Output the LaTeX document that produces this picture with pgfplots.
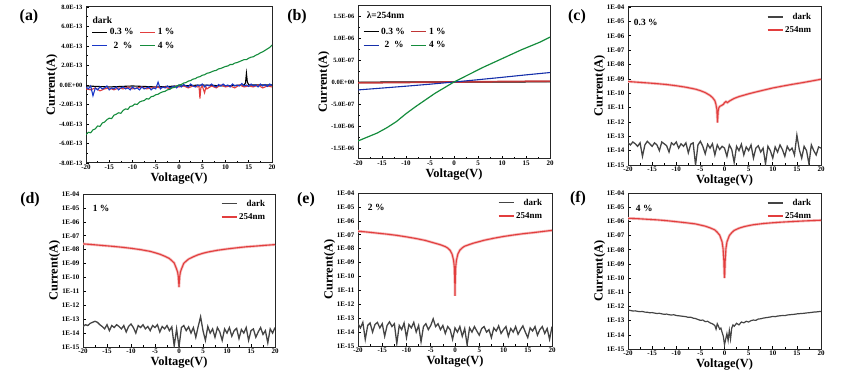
\documentclass[border=0pt]{standalone}
\usepackage{fontspec}
\setmainfont{Liberation Serif}
\usepackage{pgfplots}
\usepackage{pgfplotstable}
\pgfplotsset{compat=1.18}

\definecolor{cdark}{RGB}{68,68,68}
\definecolor{cred}{RGB}{226,62,62}
\definecolor{cblue}{RGB}{25,55,200}
\definecolor{cgreen}{RGB}{20,140,60}

\pgfplotstableread{
x y
-20 6.5e-10
-18 5.8e-10
-16 5.2e-10
-14 4.6e-10
-12 4.0e-10
-10 3.3e-10
-8 2.6e-10
-6 1.9e-10
-5 1.5e-10
-4 1.1e-10
-3 7e-11
-2.5 5e-11
-2 3e-11
-1.8 1.8e-11
-1.6 8e-12
-1.5 2e-12
-1.45 9e-13
-1.4 2e-12
-1.3 6e-12
-1.2 9e-12
-1 1.2e-11
-0.6 1.4e-11
-0.2 1.7e-11
0 2.2e-11
0.3 2.6e-11
0.6 2.2e-11
1 2.8e-11
1.5 3.5e-11
2 4.3e-11
3 5.8e-11
4 7.2e-11
5 9e-11
6 1.1e-10
8 1.6e-10
10 2.3e-10
12 3.1e-10
14 4.1e-10
16 5.3e-10
18 7e-10
20 9.3e-10
}\redC

\pgfplotstableread{
x y
-20 2.6e-8
-18 2.3e-8
-16 2.0e-8
-14 1.75e-8
-12 1.5e-8
-10 1.25e-8
-8 1.0e-8
-6 7.5e-9
-5 6e-9
-4 4.7e-9
-3 3.4e-9
-2 2.3e-9
-1.5 1.6e-9
-1 1.1e-9
-0.5 4e-10
-0.3 2.5e-10
-0.15 1.2e-10
-0.05 4e-11
0 2e-11
0.05 4e-11
0.15 1.2e-10
0.3 2.5e-10
0.5 4e-10
1 1.05e-9
1.5 1.5e-9
2 2.1e-9
3 3.1e-9
4 4.3e-9
5 5.5e-9
6 6.7e-9
8 9e-9
10 1.12e-8
12 1.35e-8
14 1.6e-8
16 1.8e-8
18 2.05e-8
20 2.3e-8
}\redD

\pgfplotstableread{
x y
-20 1.8e-7
-18 1.55e-7
-16 1.3e-7
-14 1.1e-7
-12 9e-8
-10 7e-8
-8 5.3e-8
-6 3.8e-8
-5 3e-8
-4 2.4e-8
-3 1.9e-8
-2 1.4e-8
-1.5 1.1e-8
-1 7.5e-9
-0.6 4e-9
-0.3 1.5e-9
-0.15 5e-10
-0.05 5e-11
0 4e-12
0.05 5e-11
0.15 5e-10
0.3 1.5e-9
0.6 4.2e-9
1 7.8e-9
1.5 1.15e-8
2 1.5e-8
3 2e-8
4 2.6e-8
5 3.2e-8
6 4e-8
8 5.6e-8
10 7.5e-8
12 9.5e-8
14 1.18e-7
16 1.4e-7
18 1.7e-7
20 2.05e-7
}\redE

\pgfplotstableread{
x y
-20 1.65e-6
-18 1.55e-6
-16 1.4e-6
-14 1.28e-6
-12 1.12e-6
-10 9.5e-7
-8 8e-7
-6 6.6e-7
-5 5.5e-7
-4 4.6e-7
-3 3.5e-7
-2 2.5e-7
-1.5 1.7e-7
-1 1.07e-7
-0.5 3.6e-8
-0.3 1.2e-8
-0.15 2e-9
-0.05 2e-10
0 1e-10
0.05 2e-10
0.15 2e-9
0.3 1.2e-8
0.5 3.5e-8
1 1e-7
1.5 1.6e-7
2 2.3e-7
3 3.3e-7
4 4.2e-7
5 5e-7
6 5.8e-7
8 7e-7
10 8e-7
12 8.9e-7
14 9.7e-7
16 1.05e-6
18 1.13e-6
20 1.2e-6
}\redF

\pgfplotsset{
 panel/.style={
  scale only axis,
  anchor=south west,
  xmin=-20, xmax=20,
  xtick={-20,-15,-10,-5,0,5,10,15,20},
  xticklabels={-20,-15,-10,-5,0,5,10,15,20},
  minor x tick num=1,
  tick align=inside,
  xtick pos=bottom, ytick pos=left,
  major tick length=3bp, minor tick length=1.8bp,
  every tick/.style={line width=0.6bp, black},
  axis line style={line width=1bp, black!85},
  xticklabel style={font=\bfseries\fontsize{7}{8}\selectfont, inner sep=1bp, yshift=-1bp},
  yticklabel style={font=\bfseries\fontsize{6.5}{7}\selectfont, inner sep=1bp, xshift=-2.5bp},
  label style={font=\bfseries\fontsize{12.5}{14}\selectfont},
  xlabel={Voltage(V)},
  ylabel={Current(A)},
  xlabel style={inner sep=1.5bp},
  ylabel style={yshift=-3bp},
  scaled y ticks=false,
  scaled x ticks=false,
  legend style={draw=none, fill=none, inner sep=0pt, row sep=1.5bp,
    font=\bfseries\fontsize{9.5}{10}\selectfont},
  legend image code/.code={\draw[##1, line width=1.2bp] (0bp,0bp) -- (15bp,0bp);},
 },
 logpanel/.style={
  panel,
  ymin=1e-15, ymax=1e-4,
  ytick={1e-15,1e-14,1e-13,1e-12,1e-11,1e-10,1e-9,1e-8,1e-7,1e-6,1e-5,1e-4},
  yticklabels={1E-15,1E-14,1E-13,1E-12,1E-11,1E-10,1E-09,1E-08,1E-07,1E-06,1E-05,1E-04},
  yminorticks=false,
  yticklabel style={font=\bfseries\fontsize{7}{7.5}\selectfont},
  legend cell align=right,
  legend style={at={(rel axis cs:0.96,0.975)}, anchor=north east, font=\bfseries\fontsize{9}{10}\selectfont},
 },
}

\begin{document}
\begin{tikzpicture}
\path[use as bounding box] (0,0) rectangle (844bp,386bp);

% ---------------- (a)
\begin{axis}[panel, at={(86bp,223bp)}, width=186bp, height=156bp,
  ymin=-8e-13, ymax=8e-13,
  ytick={-8e-13,-6e-13,-4e-13,-2e-13,0,2e-13,4e-13,6e-13,8e-13},
  yticklabels={-8.0E-13,-6.0E-13,-4.0E-13,-2.0E-13,0.0E+00,2.0E-13,4.0E-13,6.0E-13,8.0E-13},
  minor y tick num=1,
  legend columns=2,
  legend style={at={(rel axis cs:0.03,0.875)}, anchor=north west,
    /tikz/every even column/.append style={column sep=4bp}},
]
\addplot[black, line width=1.1bp] coordinates {(-20,-0.1e-13)(-15,-0.2e-13)(-10,-0.1e-13)(-5,-0.2e-13)(0,-0.1e-13)(5,0)(10,-0.1e-13)(14,0)(14.3,0.2e-13)(14.5,1.2e-13)(14.7,0.3e-13)(15,0)(20,0)};
\addlegendentry{0.3 \%}
\addplot[cred, line width=1.1bp] coordinates {(-20,-0.4e-13)(-19,-0.5e-13)(-18,-0.3e-13)(-17,-0.6e-13)(-16,-0.4e-13)(-15,-0.3e-13)(-14,-0.5e-13)(-13,-0.3e-13)(-12,-0.4e-13)(-11,-0.2e-13)(-10,-0.4e-13)(-9,-0.3e-13)(-8,-0.2e-13)(-7,-0.4e-13)(-6,-0.3e-13)(-5,-0.2e-13)(-4,-0.3e-13)(-3,-0.2e-13)(-2,-0.4e-13)(-1,-0.1e-13)(0,-0.2e-13)(1,-0.1e-13)(2,-0.3e-13)(3,-0.1e-13)(4,-0.2e-13)(4.3,-0.1e-13)(4.5,-1.4e-13)(4.7,-0.3e-13)(5,-0.1e-13)(5.5,-0.8e-13)(5.8,-0.2e-13)(6,-0.4e-13)(7,-0.1e-13)(8,-0.3e-13)(9,0)(10,-0.2e-13)(11,-0.1e-13)(12,-0.3e-13)(13,0)(14,-0.2e-13)(15,-0.1e-13)(16,-0.2e-13)(17,0)(18,-0.3e-13)(19,-0.1e-13)(20,-0.2e-13)};
\addlegendentry{1 \%}
\addplot[cblue, line width=1.1bp] coordinates {(-20,-0.2e-13)(-19.5,-0.4e-13)(-19,-0.1e-13)(-18.5,-1.1e-13)(-18,-0.3e-13)(-17.5,-0.5e-13)(-17,-0.2e-13)(-16.5,-0.4e-13)(-16,-0.3e-13)(-15.5,-0.1e-13)(-15,-0.5e-13)(-14.5,-0.3e-13)(-14,-0.4e-13)(-13.5,-0.2e-13)(-13,-0.5e-13)(-12.5,-0.3e-13)(-12,-0.2e-13)(-11.5,-0.4e-13)(-11,-0.3e-13)(-10.5,-0.5e-13)(-10,-0.2e-13)(-9.5,-0.4e-13)(-9,-0.3e-13)(-8.5,-0.5e-13)(-8,-0.2e-13)(-7.5,-0.4e-13)(-7,-0.3e-13)(-6.5,-0.2e-13)(-6,-0.5e-13)(-5.5,-0.3e-13)(-5,-0.4e-13)(-4.5,0.3e-13)(-4,-0.4e-13)(-3.5,-0.2e-13)(-3,-0.3e-13)(-2.5,-0.1e-13)(-2,-0.3e-13)(-1.5,-0.2e-13)(-1,-0.1e-13)(-0.5,-0.3e-13)(0,0)(0.5,-0.2e-13)(1,0.05e-13)(1.5,-0.1e-13)(2,-0.2e-13)(2.5,0.1e-13)(3,-0.1e-13)(3.5,-0.2e-13)(4,0)(4.5,-0.1e-13)(5,0.1e-13)(5.5,-0.2e-13)(6,0)(6.5,-0.1e-13)(7,0.1e-13)(7.5,-0.1e-13)(8,-0.2e-13)(8.5,0.05e-13)(9,-0.1e-13)(9.5,0.1e-13)(10,-0.1e-13)(10.5,0)(11,-0.2e-13)(11.5,0.1e-13)(12,-0.1e-13)(12.5,0)(13,-0.1e-13)(13.5,0.15e-13)(14,-0.1e-13)(14.5,0)(15,-0.15e-13)(15.5,0.1e-13)(16,-0.1e-13)(16.5,0)(17,-0.2e-13)(17.5,0.1e-13)(18,-0.1e-13)(18.5,0.05e-13)(19,-0.15e-13)(19.5,0.1e-13)(20,-0.05e-13)};
\addlegendentry{\ 2 \ \%}
\addplot[cgreen, line width=1.1bp] coordinates {(-20,-5.1e-13)(-19.5,-4.85e-13)(-19,-4.9e-13)(-18.5,-4.6e-13)(-18,-4.5e-13)(-17.5,-4.2e-13)(-17,-4.25e-13)(-16.5,-3.9e-13)(-16,-3.8e-13)(-15.5,-3.55e-13)(-15,-3.4e-13)(-14.5,-3.45e-13)(-14,-3.1e-13)(-13.5,-3.0e-13)(-13,-2.85e-13)(-12.5,-2.9e-13)(-12,-2.6e-13)(-11.5,-2.45e-13)(-11,-2.5e-13)(-10.5,-2.2e-13)(-10,-2.15e-13)(-9.5,-1.95e-13)(-9,-2.0e-13)(-8.5,-1.75e-13)(-8,-1.65e-13)(-7.5,-1.6e-13)(-7,-1.4e-13)(-6.5,-1.45e-13)(-6,-1.2e-13)(-5.5,-1.15e-13)(-5,-1.0e-13)(-4.5,-0.95e-13)(-4,-0.8e-13)(-3.5,-0.7e-13)(-3,-0.65e-13)(-2.5,-0.5e-13)(-2,-0.45e-13)(-1.5,-0.3e-13)(-1,-0.25e-13)(-0.5,-0.1e-13)(0,0)(0.5,0.05e-13)(1,0.2e-13)(1.5,0.25e-13)(2,0.4e-13)(2.5,0.45e-13)(3,0.6e-13)(3.5,0.65e-13)(4,0.8e-13)(4.5,0.85e-13)(5,1.0e-13)(5.5,1.05e-13)(6,1.2e-13)(6.5,1.25e-13)(7,1.35e-13)(7.5,1.45e-13)(8,1.5e-13)(8.5,1.65e-13)(9,1.7e-13)(9.5,1.8e-13)(10,1.9e-13)(10.5,1.95e-13)(11,2.1e-13)(11.5,2.1e-13)(12,2.25e-13)(12.5,2.3e-13)(13,2.4e-13)(13.5,2.5e-13)(14,2.6e-13)(14.5,2.6e-13)(15,2.75e-13)(15.5,2.85e-13)(16,2.9e-13)(16.5,3.05e-13)(17,3.15e-13)(17.5,3.3e-13)(18,3.4e-13)(18.5,3.55e-13)(19,3.7e-13)(19.5,3.85e-13)(20,4.1e-13)};
\addlegendentry{4 \%}
\node[anchor=west, font=\bfseries\fontsize{9.5}{10}\selectfont, inner sep=0pt] at (rel axis cs:0.035,0.915) {dark};
\end{axis}

% ---------------- (b)
\begin{axis}[panel, at={(358bp,227bp)}, width=192bp, height=154bp,
  ymin=-1.75e-6, ymax=1.75e-6,
  ytick={-1.5e-6,-1e-6,-5e-7,0,5e-7,1e-6,1.5e-6},
  yticklabels={-1.5E-06,-1.0E-06,-5.0E-07,0.0E+00,5.0E-07,1.0E-06,1.5E-06},
  minor y tick num=1,
  legend columns=2,
  legend style={at={(rel axis cs:0.025,0.865)}, anchor=north west,
    /tikz/every even column/.append style={column sep=4bp}},
]
\addplot[black, line width=1.2bp] coordinates {(-20,-3e-9)(0,0)(20,3e-9)};
\addlegendentry{0.3 \%}
\addplot[cred!85!black, line width=1.7bp] coordinates {(-20,-2e-8)(-10,-1e-8)(0,0)(10,1e-8)(20,2e-8)};
\addlegendentry{1 \%}
\addplot[cblue!85!black, line width=1.1bp] coordinates {(-20,-1.8e-7)(-15,-1.38e-7)(-10,-0.95e-7)(-5,-0.5e-7)(0,0)(5,0.52e-7)(10,1.06e-7)(15,1.62e-7)(20,2.15e-7)};
\addlegendentry{\ 2 \ \%}
\addplot[cgreen, line width=1.2bp] coordinates {(-20,-1.34e-6)(-18,-1.25e-6)(-16,-1.16e-6)(-14,-1.04e-6)(-12,-0.9e-6)(-10,-0.72e-6)(-8,-0.56e-6)(-6,-0.41e-6)(-4,-0.26e-6)(-2,-0.13e-6)(0,0)(2,0.11e-6)(4,0.22e-6)(6,0.33e-6)(8,0.43e-6)(10,0.53e-6)(12,0.63e-6)(14,0.73e-6)(16,0.82e-6)(18,0.91e-6)(20,1.02e-6)};
\addlegendentry{4 \%}
\node[anchor=west, font=\bfseries\fontsize{9.5}{10}\selectfont, inner sep=0pt] at (rel axis cs:0.045,0.935) {λ=254nm};
\end{axis}

% ---------------- (c)
\begin{axis}[ymode=log, logpanel, at={(628bp,221bp)}, width=193bp, height=158bp]
\addplot[cdark, line width=1.3bp] coordinates {(-20,3.5e-14)(-19.5,2.5e-14)(-19,4e-14)(-18.5,3e-14)(-18,2e-14)(-17.5,3.5e-14)(-17,0.4e-14)(-16.5,2.5e-14)(-16,4.5e-14)(-15.5,3e-14)(-15,2e-14)(-14.5,3.5e-14)(-14,2.5e-14)(-13.5,1e-14)(-13,4e-14)(-12.5,3e-14)(-12,2.2e-14)(-11.5,0.8e-14)(-11,3.5e-14)(-10.5,2.5e-14)(-10,4e-14)(-9.5,1.5e-14)(-9,3e-14)(-8.5,2e-14)(-8,3.5e-14)(-7.5,0.7e-14)(-7,2.8e-14)(-6.5,3.5e-14)(-6,0.1e-14)(-5.5,2.5e-14)(-5,4.5e-14)(-4.5,2e-14)(-4,0.6e-14)(-3.5,2.8e-14)(-3,1.5e-14)(-2.5,3e-14)(-2,0.5e-14)(-1.5,2.5e-14)(-1,1.2e-14)(-0.5,2e-14)(0,1.5e-14)(0.5,0.4e-14)(1,2.5e-14)(1.5,1.2e-14)(2,0.15e-14)(2.5,2e-14)(3,1e-14)(3.5,2.8e-14)(4,0.5e-14)(4.5,1.8e-14)(5,1e-14)(5.5,2.5e-14)(6,0.3e-14)(6.5,1.5e-14)(7,2.2e-14)(7.5,0.8e-14)(8,1.5e-14)(8.5,0.12e-14)(9,2e-14)(9.5,1e-14)(10,0.3e-14)(10.5,1.8e-14)(11,0.8e-14)(11.5,2.5e-14)(12,1.2e-14)(12.5,0.4e-14)(13,2e-14)(13.5,1e-14)(14,1.5e-14)(14.5,0.5e-14)(15,12e-14)(15.5,1.2e-14)(16,0.3e-14)(16.5,2e-14)(17,1e-14)(17.5,0.12e-14)(18,2.5e-14)(18.5,1e-14)(19,0.5e-14)(19.5,1.8e-14)(20,1.5e-14)};
\addlegendentry{dark}
\addplot[cred!35, line width=2.6bp, forget plot] table {\redC};
\addplot[cred, line width=1.1bp] table {\redC};
\addlegendentry{254nm}
\node[anchor=west, font=\bfseries\fontsize{9.5}{10}\selectfont, inner sep=0pt] at (rel axis cs:0.03,0.905) {0.3 \%};
\end{axis}

% ---------------- (d)
\begin{axis}[ymode=log, logpanel, at={(83bp,39bp)}, width=192bp, height=153bp]
\addplot[cdark, line width=1.3bp] coordinates {(-20,3e-14)(-19.5,4e-14)(-19,3.5e-14)(-18.5,5e-14)(-18,6e-14)(-17.5,7e-14)(-17,6e-14)(-16.5,4e-14)(-16,3e-14)(-15.5,2e-14)(-15,4e-14)(-14.5,1.5e-14)(-14,3.5e-14)(-13.5,2.5e-14)(-13,4e-14)(-12.5,3e-14)(-12,2e-14)(-11.5,3.5e-14)(-11,1.2e-14)(-10.5,3e-14)(-10,4.5e-14)(-9.5,2.5e-14)(-9,1e-14)(-8.5,3.5e-14)(-8,2.5e-14)(-7.5,4e-14)(-7,2e-14)(-6.5,3e-14)(-6,1.5e-14)(-5.5,3.5e-14)(-5,2.5e-14)(-4.5,4e-14)(-4,1.2e-14)(-3.5,3e-14)(-3,2e-14)(-2.5,3.5e-14)(-2,1.5e-14)(-1.5,2.8e-14)(-1,0.12e-14)(-0.5,2e-14)(0,0.1e-14)(0.5,2.5e-14)(1,3.5e-14)(1.5,1.5e-14)(2,2.8e-14)(2.5,1e-14)(3,2.5e-14)(3.5,0.5e-14)(4,3e-14)(4.5,15e-14)(5,1.5e-14)(5.5,0.3e-14)(6,3e-14)(6.5,1e-14)(7,2e-14)(7.5,0.5e-14)(8,2.5e-14)(8.5,1.2e-14)(9,0.3e-14)(9.5,2e-14)(10,1e-14)(10.5,2.5e-14)(11,0.6e-14)(11.5,1.5e-14)(12,2.2e-14)(12.5,0.4e-14)(13,1.8e-14)(13.5,1e-14)(14,2.5e-14)(14.5,0.3e-14)(15,1.5e-14)(15.5,2e-14)(16,0.5e-14)(16.5,1.2e-14)(17,2.5e-14)(17.5,0.8e-14)(18,1.5e-14)(18.5,0.2e-14)(19,2e-14)(19.5,1e-14)(20,2.5e-14)};
\addlegendentry{dark}
\addplot[cred!35, line width=2.6bp, forget plot] table {\redD};
\addplot[cred, line width=1.1bp] table {\redD};
\addlegendentry{254nm}
\node[anchor=west, font=\bfseries\fontsize{9.5}{10}\selectfont, inner sep=0pt] at (rel axis cs:0.05,0.905) {1 \%};
\end{axis}

% ---------------- (e)
\begin{axis}[ymode=log, logpanel, at={(358bp,40bp)}, width=194bp, height=153bp]
\addplot[cdark, line width=1.3bp] coordinates {(-20,4e-14)(-19.5,2e-14)(-19,5e-14)(-18.5,0.3e-14)(-18,3e-14)(-17.5,4.5e-14)(-17,1e-14)(-16.5,3.5e-14)(-16,5e-14)(-15.5,2e-14)(-15,4e-14)(-14.5,0.5e-14)(-14,3e-14)(-13.5,5.5e-14)(-13,2.5e-14)(-12.5,4e-14)(-12,0.15e-14)(-11.5,3e-14)(-11,1.5e-14)(-10.5,4.5e-14)(-10,0.4e-14)(-9.5,3.5e-14)(-9,2e-14)(-8.5,5e-14)(-8,1e-14)(-7.5,3e-14)(-7,0.2e-14)(-6.5,2.5e-14)(-6,4e-14)(-5.5,1.5e-14)(-5,3e-14)(-4.5,9e-14)(-4,2.5e-14)(-3.5,4e-14)(-3,1.5e-14)(-2.5,3e-14)(-2,0.8e-14)(-1.5,2.5e-14)(-1,1.5e-14)(-0.5,0.3e-14)(0,2e-14)(0.5,1e-14)(1,2.5e-14)(1.5,0.5e-14)(2,1.8e-14)(2.5,0.12e-14)(3,2e-14)(3.5,1e-14)(4,2.5e-14)(4.5,1.2e-14)(5,0.6e-14)(5.5,1.8e-14)(6,2.5e-14)(6.5,1e-14)(7,1.5e-14)(7.5,0.4e-14)(8,2e-14)(8.5,1.2e-14)(9,2.8e-14)(9.5,0.8e-14)(10,1.5e-14)(10.5,2.5e-14)(11,0.5e-14)(11.5,1.8e-14)(12,1e-14)(12.5,2.5e-14)(13,0.7e-14)(13.5,1.5e-14)(14,2.8e-14)(14.5,1e-14)(15,0.4e-14)(15.5,2e-14)(16,1.2e-14)(16.5,2.5e-14)(17,0.6e-14)(17.5,1.5e-14)(18,2.5e-14)(18.5,0.8e-14)(19,1.8e-14)(19.5,0.3e-14)(20,2.5e-14)};
\addlegendentry{dark}
\addplot[cred!35, line width=2.6bp, forget plot] table {\redE};
\addplot[cred, line width=1.1bp] table {\redE};
\addlegendentry{254nm}
\node[anchor=west, font=\bfseries\fontsize{9.5}{10}\selectfont, inner sep=0pt] at (rel axis cs:0.05,0.905) {2 \%};
\end{axis}

% ---------------- (f)
\begin{axis}[ymode=log, logpanel, at={(628bp,37bp)}, width=193bp, height=156bp]
\addplot[cdark, line width=1.2bp] coordinates {(-20,5.5e-13)(-19.5,5.2e-13)(-19,4.8e-13)(-18.5,4.9e-13)(-18,4.5e-13)(-17.5,4.3e-13)(-17,4.4e-13)(-16.5,4.0e-13)(-16,3.9e-13)(-15.5,3.6e-13)(-15,3.7e-13)(-14.5,3.4e-13)(-14,3.2e-13)(-13.5,3.3e-13)(-13,3.0e-13)(-12.5,2.8e-13)(-12,2.9e-13)(-11.5,2.6e-13)(-11,2.5e-13)(-10.5,2.6e-13)(-10,2.3e-13)(-9.5,2.2e-13)(-9,2.1e-13)(-8.5,2.0e-13)(-8,1.9e-13)(-7.5,1.7e-13)(-7,1.75e-13)(-6.5,1.5e-13)(-6,1.4e-13)(-5.5,1.2e-13)(-5,1.05e-13)(-4.5,1.1e-13)(-4,8.5e-14)(-3.5,9e-14)(-3,7e-14)(-2.5,6e-14)(-2,4.5e-14)(-1.75,2.5e-14)(-1.5,6e-14)(-1.25,4e-14)(-1,2.5e-14)(-0.75,3e-14)(-0.5,1.5e-14)(-0.25,8e-15)(0,2e-15)(0.25,5e-15)(0.5,1.2e-14)(0.75,4e-15)(1,2e-14)(1.25,5e-15)(1.5,3e-14)(1.75,5e-14)(2,4e-14)(2.5,6.5e-14)(3,5e-14)(3.5,8e-14)(4,7e-14)(4.5,9e-14)(5,8e-14)(5.5,1e-13)(6,1.1e-13)(6.5,1.05e-13)(7,1.3e-13)(7.5,1.35e-13)(8,1.5e-13)(8.5,1.6e-13)(9,1.7e-13)(9.5,1.8e-13)(10,2e-13)(10.5,1.9e-13)(11,2.1e-13)(11.5,2.2e-13)(12,2.3e-13)(12.5,2.25e-13)(13,2.5e-13)(13.5,2.6e-13)(14,2.7e-13)(14.5,2.8e-13)(15,3e-13)(15.5,3.1e-13)(16,3.2e-13)(16.5,3.3e-13)(17,3.5e-13)(17.5,3.6e-13)(18,3.8e-13)(18.5,4e-13)(19,4.1e-13)(19.5,4.3e-13)(20,4.5e-13)};
\addlegendentry{dark}
\addplot[cred!35, line width=2.6bp, forget plot] table {\redF};
\addplot[cred, line width=1.1bp] table {\redF};
\addlegendentry{254nm}
\node[anchor=west, font=\bfseries\fontsize{9.5}{10}\selectfont, inner sep=0pt] at (rel axis cs:0.04,0.9) {4 \%};
\end{axis}

% panel labels
\begin{scope}[every node/.style={font=\bfseries\fontsize{16}{16}\selectfont}]
\node at (29bp,369bp) {(a)};
\node at (297bp,369bp) {(b)};
\node at (577bp,369bp) {(c)};
\node at (30bp,186bp) {(d)};
\node at (306bp,186bp) {(e)};
\node at (578bp,187bp) {(f)};
\end{scope}
\end{tikzpicture}
\end{document}
